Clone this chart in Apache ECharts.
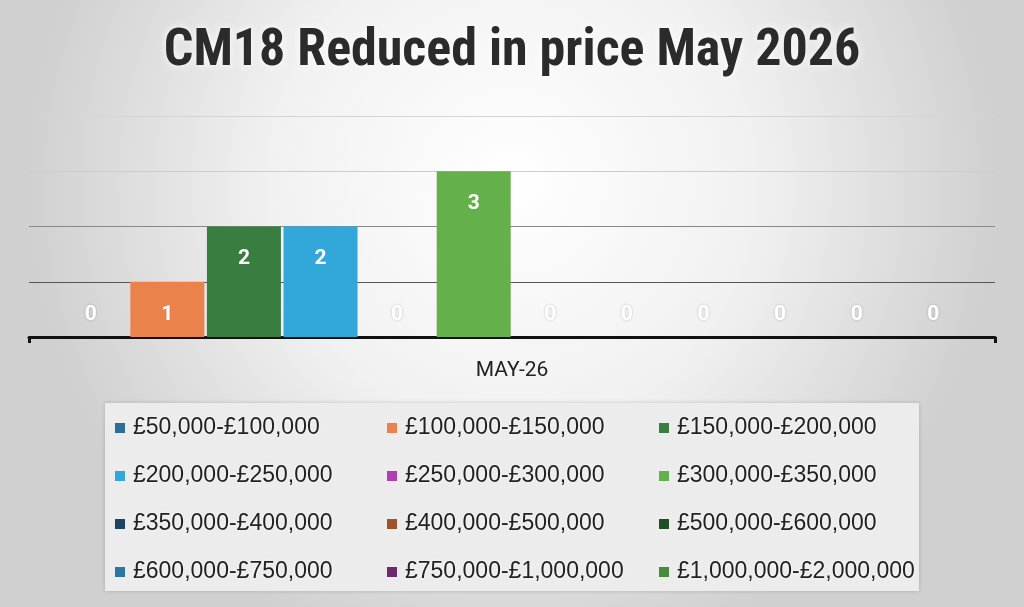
<!DOCTYPE html>
<html><head><meta charset="utf-8">
<script src="https://cdn.jsdelivr.net/npm/echarts@6/dist/echarts.min.js"></script>
<style>html,body{margin:0;padding:0;}#c{width:1024px;height:607px;}</style>
</head><body><div id="c"></div>
<script>
const categories = ['MAY-26'];
const seriesNames = ['£50,000-£100,000','£100,000-£150,000','£150,000-£200,000','£200,000-£250,000','£250,000-£300,000','£300,000-£350,000','£350,000-£400,000','£400,000-£500,000','£500,000-£600,000','£600,000-£750,000','£750,000-£1,000,000','£1,000,000-£2,000,000'];
const seriesValues = [0,1,2,2,0,3,0,0,0,0,0,0];
const seriesColors = ['#2b6f98','#ea834b','#3a7d40','#31a7da','#b03fb0','#64b04a','#1c4560','#a0522a','#1f4d24','#2a77a0','#6e2a6a','#4a8a3c'];
const yTicks = {min:0, max:4, interval:1};

const chart = echarts.init(document.getElementById('c'));
const series = seriesNames.map((n,i)=>({
  name:n, type:'bar', barWidth:74, barGap:'3.5%',
  itemStyle:{color:seriesColors[i]},
  data:[{
    value:seriesValues[i],
    label: seriesValues[i]===0
      ? {position:'top', distance:12, textShadowColor:'rgba(0,0,0,0.2)', textShadowBlur:3}
      : {position:'insideTop', distance:22}
  }],
  label:{show:true, color:'#fff', fontSize:21, fontWeight:'bold', fontFamily:'Roboto, Liberation Sans, sans-serif'}
}));
chart.setOption({
  animation:false,
  backgroundColor:{type:'radial', x:0.5, y:0.3, r:0.8, colorStops:[{offset:0,color:'#ffffff'},{offset:0.5,color:'#f1f1f1'},{offset:1,color:'#d0d0d0'}]},
  title:{text:'CM18 Reduced in price May 2026', left:'center', top:21,
    textStyle:{fontSize:52, fontWeight:'bold', color:'#2b2b2b', fontFamily:'Liberation Sans Narrow, Roboto Condensed, DejaVu Sans Condensed, sans-serif',
      textShadowColor:'rgba(255,255,255,1)', textShadowBlur:8}},
  grid:{left:29, right:29, top:116, bottom:270, containLabel:false},
  xAxis:{type:'category', data:categories,
    axisLine:{lineStyle:{color:'#111', width:3}},
    axisTick:{show:true, length:6, lineStyle:{color:'#111', width:3}},
    axisLabel:{margin:23, fontSize:21, color:'#222', fontFamily:'Roboto, Liberation Sans, sans-serif'}},
  yAxis:{type:'value', min:yTicks.min, max:yTicks.max, interval:yTicks.interval,
    axisLabel:{show:false}, axisLine:{show:false}, axisTick:{show:false},
    splitLine:{lineStyle:{color:['#000','#555','#888','#cccccc','#d4d4d4'], width:1}}},
  legend:{left:105, top:403, width:860, orient:'horizontal',
    padding:[8,2,2,10], itemGap:14, itemWidth:10, itemHeight:10, icon:'rect',
    backgroundColor:'#ececec', shadowColor:'rgba(0,0,0,0.18)', shadowBlur:4,
    textStyle:{fontSize:23, color:'#222', width:240, lineHeight:34, padding:[0,0,0,3],
      fontFamily:'Liberation Sans, Arial, sans-serif', textShadowColor:'rgba(255,255,255,0.9)', textShadowBlur:3},
    data:seriesNames},
  series:series
});
</script></body></html>
